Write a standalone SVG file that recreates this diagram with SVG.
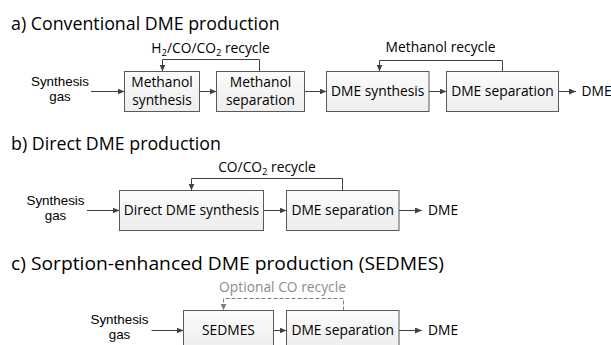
<svg xmlns="http://www.w3.org/2000/svg" width="611" height="345" viewBox="0 0 611 345">
<style>
  text { font-family: "Open Sans", "Noto Sans", "DejaVu Sans", sans-serif; fill: #000; }
  .title { font-size: 17.8px; }
  .lbl { font-size: 13.8px; }
  .src { font-family: "Liberation Sans", Arial, sans-serif; font-size: 13.4px; text-anchor: middle; }
  .mid { text-anchor: middle; }
  .box { fill: url(#g); stroke: #595959; stroke-width: 1; }
  .ln { fill: none; stroke: #404040; stroke-width: 1; marker-end: url(#ah); }
  .dash { fill: none; stroke: #7f7f7f; stroke-width: 1; stroke-dasharray: 4 2; marker-end: url(#ahg); }
  .grey { fill: #8c8c8c; }
  .sub { font-size: 9.5px; }
</style>
<defs>
  <linearGradient id="g" x1="0" y1="0" x2="0" y2="1">
    <stop offset="0" stop-color="#fbfbfb"/>
    <stop offset="1" stop-color="#ededed"/>
  </linearGradient>
  <marker id="ah" markerUnits="userSpaceOnUse" markerWidth="8" markerHeight="7" refX="7" refY="3" orient="auto">
    <path d="M0,0 L7,3 L0,6 z" fill="#404040"/>
  </marker>
  <marker id="ahg" markerUnits="userSpaceOnUse" markerWidth="8" markerHeight="7" refX="7" refY="3" orient="auto">
    <path d="M0,0 L7,3 L0,6 z" fill="#7f7f7f"/>
  </marker>
</defs>

<!-- Section a -->
<text class="title" x="11" y="30">a) Conventional DME production</text>
<g id="connectors">
  <path class="ln" d="M91,91.5 H124.5"/>
  <path class="ln" d="M199.5,91.5 H216.5"/>
  <path class="ln" d="M304.5,91.5 H326.5"/>
  <path class="ln" d="M429,91.5 H446.5"/>
  <path class="ln" d="M558.5,91.5 H576"/>
  <path class="ln" d="M259.5,71.5 V59.5 H162.5 V71.5"/>
  <path class="ln" d="M502.5,71.5 V60.5 H379.5 V71.5"/>

  <path class="ln" d="M87,210.5 H119.5"/>
  <path class="ln" d="M263.5,210.5 H286.5"/>
  <path class="ln" d="M399,210.5 H422"/>
  <path class="ln" d="M342.5,190.5 V178.5 H191.5 V190.5"/>

  <path class="ln" d="M151.5,330.5 H183.5"/>
  <path class="ln" d="M273.5,330.5 H286.5"/>
  <path class="ln" d="M399,330.5 H422"/>
  <path class="dash" d="M343.5,310.5 V298.5 H223.5 V310.5"/>
</g>

<g id="a-labels">
  <text class="src" x="60" y="85.5">Synthesis</text>
  <text class="src" x="60" y="100.8">gas</text>
  <text class="lbl mid" x="210.5" y="52.5">H<tspan class="sub" dy="3">2</tspan><tspan dy="-3">/CO/CO</tspan><tspan class="sub" dy="3">2</tspan><tspan dy="-3"> recycle</tspan></text>
  <text class="lbl mid" x="440.5" y="51.5">Methanol recycle</text>
  <text class="lbl" x="581.5" y="96">DME</text>
</g>
<g id="methanol-synthesis">
  <rect class="box" x="124.5" y="71.5" width="75" height="40"/>
  <text class="lbl mid" x="162" y="87">Methanol</text>
  <text class="lbl mid" x="162" y="105">synthesis</text>
</g>
<g id="methanol-separation">
  <rect class="box" x="216.5" y="71.5" width="88" height="40"/>
  <text class="lbl mid" x="260.5" y="87">Methanol</text>
  <text class="lbl mid" x="260.5" y="105">separation</text>
</g>
<g id="dme-synthesis-a">
  <rect class="box" x="326.5" y="71.5" width="102.5" height="40"/>
  <text class="lbl mid" x="377.75" y="96">DME synthesis</text>
</g>
<g id="dme-separation-a">
  <rect class="box" x="446.5" y="71.5" width="112" height="40"/>
  <text class="lbl mid" x="502.5" y="96">DME separation</text>
</g>

<!-- Section b -->
<text class="title" x="11" y="149.5">b) Direct DME production</text>
<g id="b-labels">
  <text class="src" x="55.5" y="204.5">Synthesis</text>
  <text class="src" x="55.5" y="219.8">gas</text>
  <text class="lbl mid" x="267" y="171.5">CO/CO<tspan class="sub" dy="3">2</tspan><tspan dy="-3"> recycle</tspan></text>
  <text class="lbl" x="428" y="215">DME</text>
</g>
<g id="direct-dme-synthesis">
  <rect class="box" x="119.5" y="190.5" width="144" height="40"/>
  <text class="lbl mid" x="191.5" y="215">Direct DME synthesis</text>
</g>
<g id="dme-separation-b">
  <rect class="box" x="286.5" y="190.5" width="112.5" height="40"/>
  <text class="lbl mid" x="342.75" y="215">DME separation</text>
</g>

<!-- Section c -->
<text class="title" x="11" y="270" textLength="433" lengthAdjust="spacingAndGlyphs">c) Sorption-enhanced DME production (SEDMES)</text>
<g id="c-labels">
  <text class="src" x="119.5" y="323.5">Synthesis</text>
  <text class="src" x="119.5" y="338.8">gas</text>
  <text class="lbl mid grey" x="282.5" y="291.5">Optional CO recycle</text>
  <text class="lbl" x="428" y="335">DME</text>
</g>
<g id="sedmes">
  <rect class="box" x="183.5" y="310.5" width="90" height="40"/>
  <text class="lbl mid" x="228.5" y="335">SEDMES</text>
</g>
<g id="dme-separation-c">
  <rect class="box" x="286.5" y="310.5" width="112.5" height="40"/>
  <text class="lbl mid" x="342.75" y="335">DME separation</text>
</g>
</svg>
